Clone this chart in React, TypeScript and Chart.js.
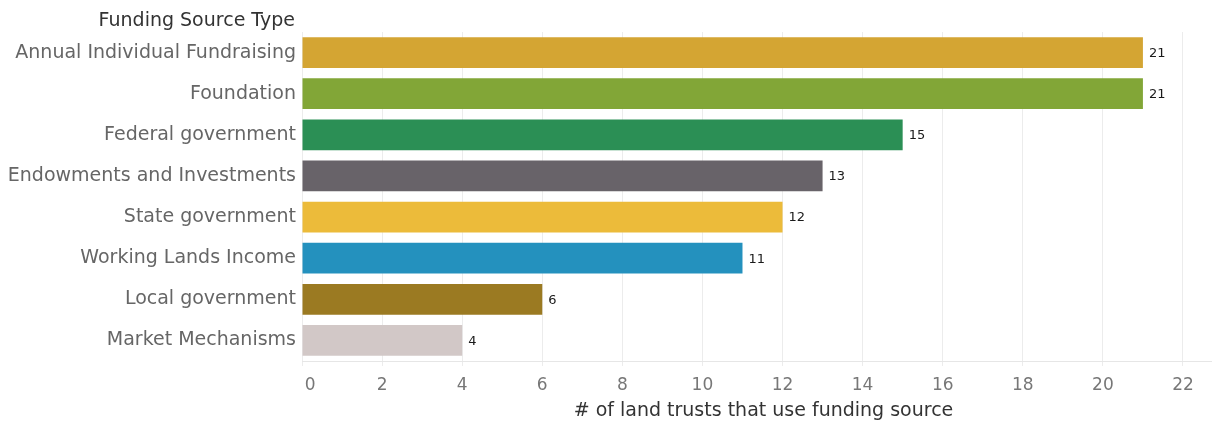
import React, { useEffect, useRef } from "react";
import { Chart, registerables } from "chart.js";

Chart.register(...registerables);

const categories = [
  "Annual Individual Fundraising",
  "Foundation",
  "Federal government",
  "Endowments and Investments",
  "State government",
  "Working Lands Income",
  "Local government",
  "Market Mechanisms",
];
const values = [21, 21, 15, 13, 12, 11, 6, 4];
const colors = [
  "#D4A533",
  "#82A637",
  "#2B8F55",
  "#686369",
  "#ECBB3A",
  "#2491BE",
  "#9B7A22",
  "#D2C8C7",
];
const xTicks = [0, 2, 4, 6, 8, 10, 12, 14, 16, 18, 20, 22];
const yTitle = "Funding Source Type";
const xTitle = "# of land trusts that use funding source";

const FONT = "DejaVu Sans";

const valueLabels = {
  id: "valueLabels",
  afterDatasetsDraw(chart: any) {
    const ctx = chart.ctx;
    const meta = chart.getDatasetMeta(0);
    ctx.save();
    ctx.font = `13px "${FONT}"`;
    ctx.fillStyle = "#1a1a1a";
    ctx.textAlign = "left";
    ctx.textBaseline = "middle";
    meta.data.forEach((bar: any, i: number) => {
      ctx.fillText(String(values[i]), bar.x + 6, bar.y + 1);
    });
    ctx.restore();
  },
};

const titlesPlugin = {
  id: "titlesPlugin",
  afterDraw(chart: any) {
    const ctx = chart.ctx;
    const area = chart.chartArea;
    ctx.save();
    ctx.font = `19px "${FONT}"`;
    ctx.fillStyle = "#333";
    ctx.textBaseline = "middle";
    ctx.textAlign = "right";
    ctx.fillText(yTitle, area.left - 7, 21);
    ctx.textAlign = "center";
    ctx.fillText(xTitle, (area.left + area.right) / 2 + 7, 411);
    ctx.restore();
  },
};

export default function App() {
  const ref = useRef<HTMLCanvasElement>(null);
  useEffect(() => {
    document.body.style.margin = "0";
    const chart = new Chart(ref.current!, {
      type: "bar",
      data: {
        labels: categories,
        datasets: [
          {
            data: values,
            backgroundColor: colors,
            categoryPercentage: 1,
            barPercentage: 0.75,
          },
        ],
      },
      options: {
        indexAxis: "y",
        animation: false,
        responsive: false,
        maintainAspectRatio: false,
        layout: { padding: { top: 32, right: 2, left: 0, bottom: 0 } },
        plugins: { legend: { display: false }, tooltip: { enabled: false } },
        scales: {
          x: {
            type: "linear",
            min: 0,
            max: 22.7,
            afterBuildTicks: (scale: any) => {
              scale.ticks = xTicks.map((v) => ({ value: v }));
            },
            afterFit: (scale: any) => {
              scale.height = 62;
            },
            ticks: {
              color: "#777",
              font: { family: FONT, size: 17 },
              padding: 9,
              maxRotation: 0,
              callback: (v: any) => (v === 0 ? "   0" : String(v)),
            },
            grid: {
              color: "#ececec",
              tickLength: 5,
              drawTicks: true,
            },
            border: { color: "#e6e6e6", display: true },
            title: { display: false },
          },
          y: {
            afterFit: (scale: any) => {
              scale.width = 302;
            },
            ticks: {
              color: "#666",
              font: { family: FONT, size: 19 },
              padding: 6,
              autoSkip: false,
            },
            grid: { display: false, drawTicks: false },
            border: { display: false },
          },
        },
      },
      plugins: [valueLabels, titlesPlugin],
    });
    return () => chart.destroy();
  }, []);
  return (
    <div style={{ width: 1213, height: 423 }}>
      <canvas ref={ref} width={1213} height={423} style={{ display: "block" }} />
    </div>
  );
}
